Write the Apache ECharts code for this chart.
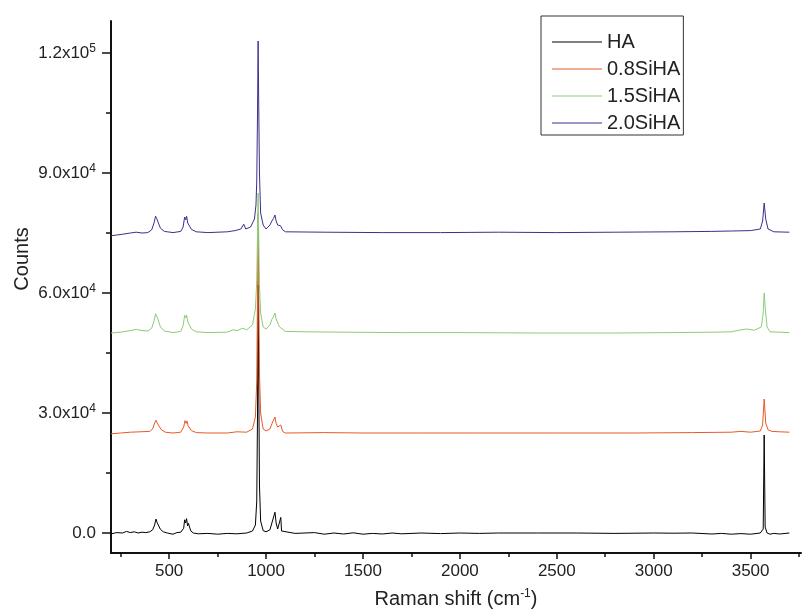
<!DOCTYPE html>
<html>
<head>
<meta charset="utf-8">
<script src="https://cdn.jsdelivr.net/npm/echarts@6/dist/echarts.min.js"></script>
<style>html,body{margin:0;padding:0;background:#fff}#c{width:802px;height:614px}</style>
</head>
<body>
<div id="c"></div>
<script>
const seriesNames = ['HA', '0.8SiHA', '1.5SiHA', '2.0SiHA'];
const seriesColors = ['#000000', '#e85a26', '#8ccc78', '#3e2e8e'];
const yMajorTicks = [0, 30000, 60000, 90000, 120000];
const yMinorTicks = [15000, 45000, 75000, 105000];
const xMajorTicks = [500, 1000, 1500, 2000, 2500, 3000, 3500];
const xMinorTicks = [250, 750, 1250, 1750, 2250, 2750, 3250, 3750];

const HA = [[200,-200],[230,100],[260,0],[280,400],[300,100],[320,300],[340,0],[360,200],[380,100],[400,300],[415,800],[425,2000],[432,3500],[438,2600],[445,2200],[455,900],[470,300],[490,0],[520,-300],[540,100],[560,200],[575,1200],[580,3300],[585,2500],[590,3600],[595,1800],[600,2400],[605,1500],[612,500],[625,0],[650,-200],[700,-100],[750,-300],[800,-100],[850,-200],[900,0],[930,500],[945,2000],[952,8000],[956,30000],[959,62000],[962,40000],[966,12000],[972,3000],[985,600],[1000,300],[1020,800],[1030,2500],[1038,2000],[1046,5200],[1052,2500],[1060,1000],[1070,800],[1076,3900],[1080,500],[1090,0],[1150,-100],[1250,100],[1300,-300],[1350,0],[1400,-250],[1450,50],[1500,-300],[1550,-100],[1600,-250],[1650,0],[1700,-200],[1800,0],[1900,-150],[2000,0],[2100,-100],[2200,0],[2400,0],[2600,0],[2800,-100],[3000,0],[3100,-50],[3200,0],[3300,-250],[3350,-100],[3400,-300],[3450,-150],[3500,-300],[3550,0],[3565,1000],[3570,24500],[3575,1500],[3585,0],[3600,-300],[3620,-100],[3650,-250],[3700,0]];

const SiHA08 = [[200,24800],[250,25000],[300,25200],[350,25300],[400,25400],[415,26000],[425,27500],[432,28200],[438,27500],[445,27000],[460,25800],[480,25200],[520,25000],[560,25200],[575,26500],[582,28100],[588,27400],[592,28000],[598,26800],[605,27000],[615,25600],[640,25100],[700,25000],[800,25000],[850,25300],[900,25200],[930,26000],[945,29000],[952,38000],[956,60000],[959,80000],[962,62000],[966,40000],[972,30000],[985,26000],[1000,25500],[1020,26000],[1030,27300],[1038,27000],[1046,29000],[1052,27400],[1060,26500],[1070,26200],[1076,27000],[1085,25400],[1100,25000],[1300,25100],[1500,25000],[1800,25000],[2100,25000],[2500,25000],[2900,25000],[3200,25100],[3400,25200],[3450,25400],[3500,25200],[3550,25500],[3562,27000],[3570,33500],[3578,27500],[3590,25800],[3610,25400],[3650,25300],[3700,25200]];

const SiHA15 = [[200,50000],[250,50200],[300,50600],[330,50900],[360,50600],[390,50500],[410,51200],[422,53000],[430,54800],[436,54300],[442,53500],[455,51500],[475,50500],[520,50100],[560,50400],[572,51800],[580,54400],[586,53800],[590,54500],[596,52800],[603,53000],[615,51000],[640,50300],[700,50100],[800,50200],[830,50800],[850,50600],[880,51200],[900,50800],[930,52000],[945,56000],[952,63000],[956,75000],[959,85000],[962,74000],[966,62000],[972,55000],[985,51500],[1000,51000],[1020,52000],[1030,53400],[1038,54000],[1046,55000],[1052,53500],[1060,52500],[1070,51500],[1080,51500],[1100,50400],[1200,50300],[1400,50200],[1700,50100],[2000,50100],[2400,50000],[2800,50000],[3100,50100],[3300,50200],[3400,50300],[3440,50700],[3480,51000],[3520,50700],[3555,51500],[3565,55000],[3570,60000],[3576,56000],[3585,51500],[3600,50300],[3700,50100]];

const SiHA20 = [[200,74300],[230,74500],[260,74700],[300,75000],[330,75200],[360,75000],[390,75100],[410,75800],[422,77500],[430,79200],[436,78600],[442,77800],[455,76200],[475,75400],[520,75100],[560,75400],[572,76500],[580,79000],[586,78300],[590,79200],[596,77500],[603,77800],[615,75900],[640,75300],[700,75100],[800,75300],[840,75600],[870,76000],[885,77200],[895,76000],[920,76500],[940,78500],[948,82000],[952,88000],[956,105000],[959,123000],[962,108000],[966,90000],[972,80000],[985,77000],[1000,76000],[1020,77000],[1030,78000],[1038,78600],[1046,79500],[1052,78000],[1060,77000],[1075,76800],[1085,75800],[1100,75300],[1300,75200],[1600,75100],[1900,75100],[2200,75200],[2500,75100],[2800,75200],[3100,75300],[3300,75400],[3400,75500],[3500,75600],[3550,76000],[3562,78000],[3570,82500],[3578,78500],[3590,76000],[3620,75300],[3700,75200]];

const allData = [HA, SiHA08, SiHA15, SiHA20];

function yFmt(v) {
  if (v === 0) return '0.0';
  const e = Math.floor(Math.log10(v));
  const m = (v / Math.pow(10, e)).toFixed(1);
  return m + 'x10{sup|' + e + '}';
}

const font = 'Liberation Sans, Arial, Helvetica, sans-serif';
const axisLine = { show: true, onZero: false, lineStyle: { color: '#111', width: 2 } };

const chart = echarts.init(document.getElementById('c'), null, { renderer: 'canvas' });
chart.setOption({
  animation: false,
  backgroundColor: '#fff',
  grid: { left: 111, right: 1, top: 21, bottom: 58, containLabel: false },
  legend: {
    orient: 'vertical',
    left: 541, top: 16,
    padding: [16, 3, 2, 11],
    itemGap: 7,
    itemWidth: 50, itemHeight: 1,
    icon: 'rect',
    borderColor: '#333', borderWidth: 1,
    data: seriesNames,
    textStyle: { fontFamily: font, fontSize: 20, color: '#222', lineHeight: 20 }
  },
  xAxis: [{
    type: 'value', min: 200, max: 3760,
    axisLine: axisLine,
    splitLine: { show: false },
    axisTick: { show: true, length: 6, lineStyle: { color: '#111', width: 1.5 }, customValues: xMajorTicks },
    axisLabel: { customValues: xMajorTicks, formatter: v => String(v), margin: 10, fontFamily: font, fontSize: 17, color: '#222' },
    name: 'Raman shift (cm{sup|-1})',
    nameLocation: 'middle', nameGap: 35,
    nameTextStyle: { fontFamily: font, fontSize: 20, color: '#222', rich: { sup: { fontFamily: font, fontSize: 12, color: '#222', padding: [0, 0, 10, 0] } } }
  }, {
    type: 'value', min: 200, max: 3760, position: 'bottom',
    axisLine: { show: false, onZero: false }, splitLine: { show: false },
    axisTick: { show: true, length: 4, lineStyle: { color: '#111', width: 1.5 }, customValues: xMinorTicks },
    axisLabel: { show: false }
  }],
  yAxis: [{
    type: 'value', min: -5000, max: 128000,
    axisLine: axisLine,
    splitLine: { show: false },
    axisTick: { show: true, length: 9, lineStyle: { color: '#111', width: 1.5 }, customValues: yMajorTicks },
    axisLabel: {
      customValues: yMajorTicks, margin: 15, formatter: yFmt,
      fontFamily: font, fontSize: 17, color: '#222',
      rich: { sup: { fontFamily: font, fontSize: 12, color: '#222', padding: [0, 0, 9, 0] } }
    }
  }, {
    type: 'value', min: -5000, max: 128000, position: 'left',
    axisLine: { show: false, onZero: false }, splitLine: { show: false },
    axisTick: { show: true, length: 5, lineStyle: { color: '#111', width: 1.5 }, customValues: yMinorTicks },
    axisLabel: { show: false }
  }],
  graphic: [{
    type: 'text', x: 22, y: 259, rotation: Math.PI / 2,
    style: { text: 'Counts', fontFamily: font, fontSize: 20, fill: '#222', textAlign: 'center', textVerticalAlign: 'middle' }
  }],
  series: allData.map((d, i) => ({
    name: seriesNames[i], type: 'line', data: d,
    xAxisIndex: 0, yAxisIndex: 0,
    symbol: 'none', showSymbol: false,
    lineStyle: { color: seriesColors[i], width: 1 },
    itemStyle: { color: seriesColors[i] }
  }))
});
</script>
</body>
</html>
